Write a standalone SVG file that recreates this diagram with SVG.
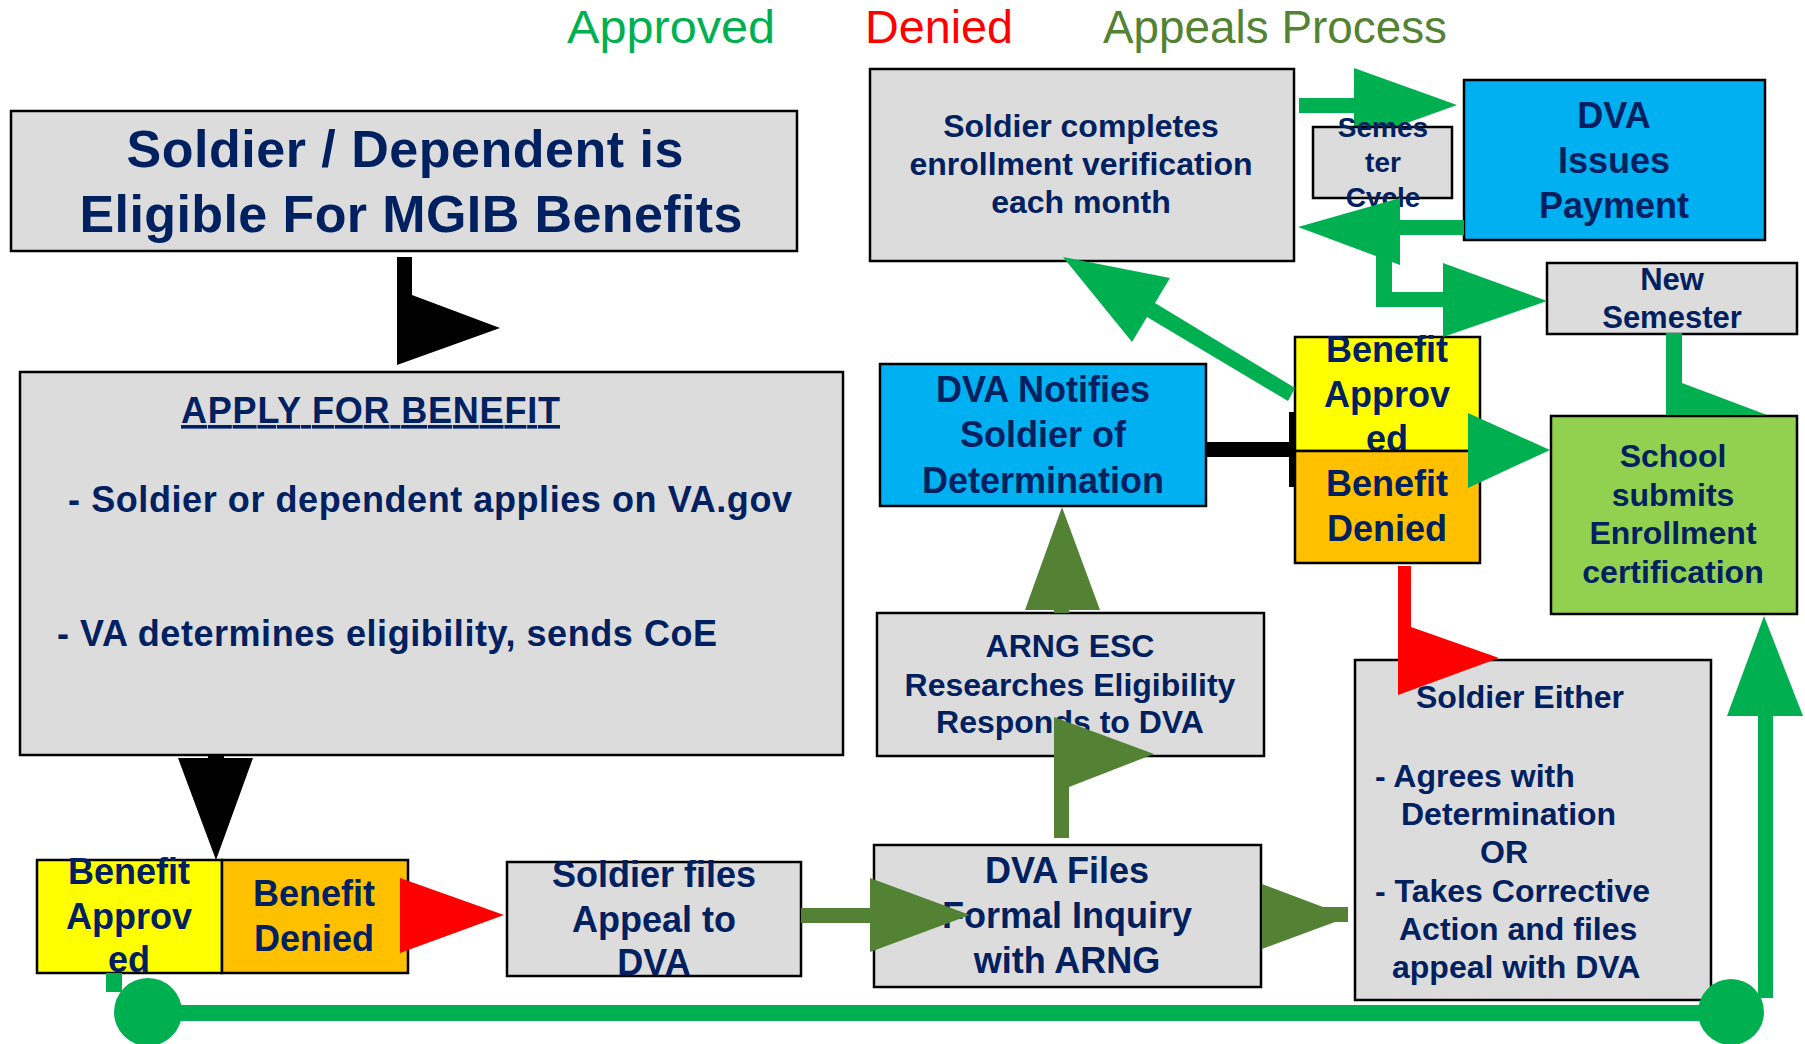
<svg xmlns="http://www.w3.org/2000/svg" width="1805" height="1044" viewBox="0 0 1805 1044">
<style>
.box{stroke:#000;stroke-width:2.5}
.gray{fill:#DCDCDC}
.blue{fill:#00B0F0}
.yel{fill:#FFFF00}
.org{fill:#FFC000}
.lg{fill:#92D050}
.t{font-family:"Liberation Sans",Arial,sans-serif;font-weight:bold;fill:#002060}
.c{text-anchor:middle}
.leg{font-family:"Liberation Sans",Arial,sans-serif;font-size:46px}
.g{fill:#00B050}
.o{fill:#548235}
.r{fill:#FF0000}
.k{fill:#000}
</style>
<rect width="1805" height="1044" fill="#fff"/>
<g id="legend">
<text class="leg" x="567" y="43" fill="#00B050" textLength="208" lengthAdjust="spacingAndGlyphs">Approved</text>
<text class="leg" x="865" y="43" fill="#FF0000" textLength="148" lengthAdjust="spacingAndGlyphs">Denied</text>
<text class="leg" x="1103" y="43" fill="#548235" textLength="344" lengthAdjust="spacingAndGlyphs">Appeals Process</text>
</g>
<g id="connectors-back">
<polygon class="g" points="1299,98 1354,98 1354,68 1457,105 1354,142 1354,113 1299,113"/>
</g>
<g id="title">
<rect class="box gray" x="11" y="111" width="786" height="140"/>
<text class="t c" font-size="52" x="405" y="167" textLength="557">Soldier / Dependent is</text>
<text class="t c" font-size="52" x="411" y="232" textLength="663">Eligible For MGIB Benefits</text>
</g>
<g id="apply">
<rect class="box gray" x="20" y="372" width="823" height="383"/>
<text class="t" font-size="36" x="181" y="423" textLength="379" style="text-decoration:underline">APPLY FOR BENEFIT</text>
<text class="t" font-size="36" x="68" y="512" textLength="724">- Soldier or dependent applies on VA.gov</text>
<text class="t" font-size="36" x="57" y="646" textLength="660">- VA determines eligibility, sends CoE</text>
</g>
<g id="approved-left">
<rect class="box yel" x="37" y="860" width="185" height="113"/>
<text class="t c" font-size="36" x="129" y="884">Benefit</text>
<text class="t c" font-size="36" x="129" y="929">Approv</text>
<text class="t c" font-size="36" x="129" y="972">ed</text>
</g>
<g id="denied-left">
<rect class="box org" x="222" y="860" width="186" height="113"/>
<text class="t c" font-size="36" x="314" y="906">Benefit</text>
<text class="t c" font-size="36" x="314" y="951">Denied</text>
</g>
<g id="appeal">
<rect class="box gray" x="507" y="862" width="294" height="114"/>
<text class="t c" font-size="36" x="654" y="887">Soldier files</text>
<text class="t c" font-size="36" x="654" y="932">Appeal to</text>
<text class="t c" font-size="36" x="654" y="975">DVA</text>
</g>
<g id="dva-files">
<rect class="box gray" x="874" y="845" width="387" height="142"/>
<text class="t c" font-size="36" x="1067" y="883">DVA Files</text>
<text class="t c" font-size="36" x="1067" y="928">Formal Inquiry</text>
<text class="t c" font-size="36" x="1067" y="973">with ARNG</text>
</g>
<g id="arng">
<rect class="box gray" x="877" y="613" width="387" height="143"/>
<text class="t c" font-size="32" x="1070" y="657">ARNG ESC</text>
<text class="t c" font-size="32" x="1070" y="696">Researches Eligibility</text>
<text class="t c" font-size="32" x="1070" y="733">Responds to DVA</text>
</g>
<g id="dva-notifies">
<rect class="box blue" x="880" y="364" width="326" height="142"/>
<text class="t c" font-size="36" x="1043" y="402">DVA Notifies</text>
<text class="t c" font-size="36" x="1043" y="447">Soldier of</text>
<text class="t c" font-size="36" x="1043" y="493">Determination</text>
</g>
<g id="approved-right">
<rect class="box yel" x="1295" y="337" width="185" height="114"/>
<text class="t c" font-size="36" x="1387" y="362">Benefit</text>
<text class="t c" font-size="36" x="1387" y="407">Approv</text>
<text class="t c" font-size="36" x="1387" y="451">ed</text>
</g>
<g id="denied-right">
<rect class="box org" x="1295" y="451" width="185" height="112"/>
<text class="t c" font-size="36" x="1387" y="496">Benefit</text>
<text class="t c" font-size="36" x="1387" y="541">Denied</text>
</g>
<g id="school">
<rect class="box lg" x="1551" y="416" width="246" height="198"/>
<text class="t c" font-size="32" x="1673" y="467">School</text>
<text class="t c" font-size="32" x="1673" y="506">submits</text>
<text class="t c" font-size="32" x="1673" y="544">Enrollment</text>
<text class="t c" font-size="32" x="1673" y="583">certification</text>
</g>
<g id="new-semester">
<rect class="box gray" x="1547" y="263" width="250" height="71"/>
<text class="t c" font-size="31" x="1672" y="290">New</text>
<text class="t c" font-size="31" x="1672" y="328">Semester</text>
</g>
<g id="dva-issues">
<rect class="box blue" x="1464" y="80" width="301" height="160"/>
<text class="t c" font-size="36" x="1614" y="128">DVA</text>
<text class="t c" font-size="36" x="1614" y="173">Issues</text>
<text class="t c" font-size="36" x="1614" y="218">Payment</text>
</g>
<g id="soldier-completes">
<rect class="box gray" x="870" y="69" width="424" height="192"/>
<text class="t c" font-size="32" x="1081" y="137">Soldier completes</text>
<text class="t c" font-size="32" x="1081" y="175">enrollment verification</text>
<text class="t c" font-size="32" x="1081" y="213">each month</text>
</g>
<g id="semester-cycle">
<rect class="box gray" x="1313" y="127" width="139" height="71"/>
<text class="t c" font-size="28" x="1383" y="137">Semes</text>
<text class="t c" font-size="28" x="1383" y="172">ter</text>
<text class="t c" font-size="28" x="1383" y="207">Cycle</text>
</g>
<g id="soldier-either">
<rect class="box gray" x="1355" y="660" width="356" height="340"/>
<text class="t" font-size="32" x="1416" y="708">Soldier Either</text>
<text class="t" font-size="32" x="1375" y="787">- Agrees with</text>
<text class="t" font-size="32" x="1401" y="825">Determination</text>
<text class="t" font-size="32" x="1480" y="863">OR</text>
<text class="t" font-size="32" x="1375" y="902">- Takes Corrective</text>
<text class="t" font-size="32" x="1399" y="940">Action and files</text>
<text class="t" font-size="32" x="1392" y="978">appeal with DVA</text>
</g>
<g id="connectors">
<polygon class="k" points="397,257 412,257 412,295 500,328 397,365"/>
<polygon class="k" points="208,755 224,755 224,758 253,758 216,860 178,758 208,758"/>
<rect class="k" x="1206" y="442" width="84" height="15"/>
<rect class="k" x="1289" y="412" width="6" height="75"/>
<polygon class="r" points="400,878 504,915 400,953"/>
<polygon class="r" points="1398,566 1411,566 1411,627 1499,658 1398,695"/>
<polygon class="o" points="801,908 870,908 870,878 970,915 870,952 870,923 801,923"/>
<polygon class="o" points="1054,838 1054,717 1154,754 1069,787 1069,838"/>
<polygon class="o" points="1054,613 1054,610 1025,610 1062,507 1100,610 1069,610 1069,613"/>
<polygon class="o" points="1262,884 1323,907 1348,907 1348,922 1335,922 1262,949"/>
<polygon class="g" points="1464,220 1400,220 1400,198 1298,227 1400,265 1400,235 1464,235"/>
<polygon class="g" points="1376,206 1392,201 1392,292 1443,292 1443,263 1547,301 1443,337 1443,307 1376,307"/>
<polygon class="g" points="1063,257 1170,278 1155,303 1295,388 1288,401 1147,317 1132,342"/>
<polygon class="g" points="1468,413 1550,450 1468,488"/>
<polygon class="g" points="1666,333 1682,333 1682,383 1767,415 1666,415"/>
<rect class="g" x="106" y="973" width="16" height="19"/>
<circle class="g" cx="148" cy="1012" r="34"/>
<rect class="g" x="148" y="1005" width="1583" height="16"/>
<circle class="g" cx="1731" cy="1012" r="33"/>
<rect class="g" x="1758" y="714" width="15" height="284"/>
<polygon class="g" points="1727,716 1764,616 1803,716"/>
</g>
</svg>
